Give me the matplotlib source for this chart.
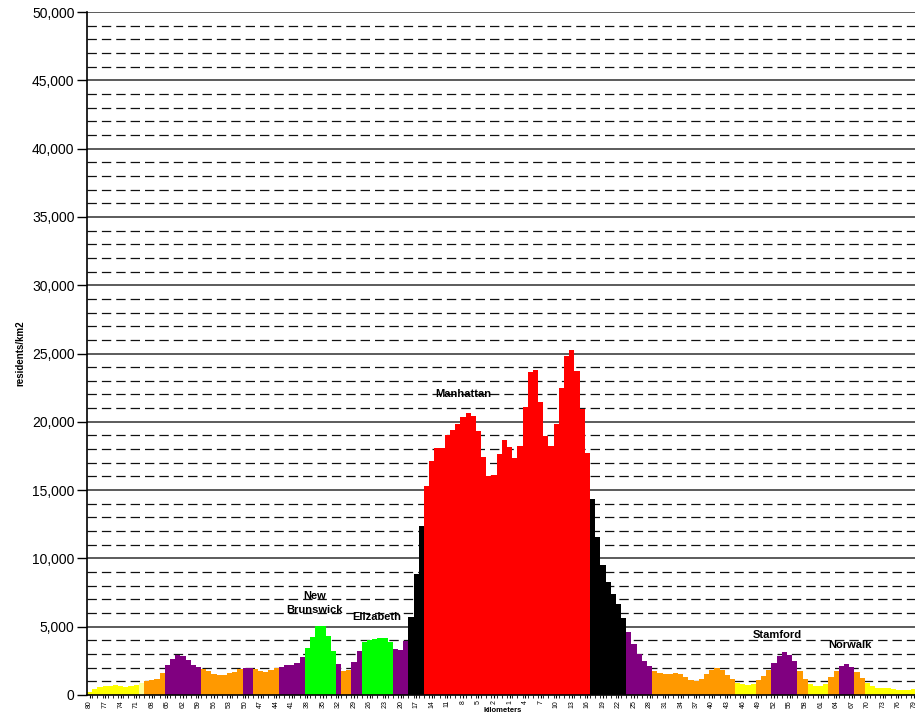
import matplotlib
matplotlib.use("Agg")
import matplotlib.pyplot as plt

plt.rcParams['font.family'] = ['Liberation Sans', 'DejaVu Sans']

# distance from Manhattan (km), left side counts down, right side counts up
km = list(range(80, 0, -1)) + [0] + list(range(1, 80))

density = [
    250, 440, 610, 680, 680, 730, 680, 610, 680, 730,
    880, 1020, 1100, 1200, 1610,
    2200, 2630, 2930, 2830, 2560, 2200, 2050,
    1900, 1760, 1540, 1460, 1460, 1610, 1700, 1900,
    1980, 1980,
    1900, 1760, 1680, 1830, 1980,
    2050, 2200, 2200, 2340, 2780,
    3440, 4240, 5050, 5050, 4320, 3220,
    2270, 1760, 1830, 2410, 3220,
    3900, 4000, 4070, 4170, 4170, 3900,
    3370, 3290, 3980,
    5680, 8850, 12390,
    15320, 17150, 18050, 18100, 19020, 19410, 19830, 20340, 20630, 20410,
    19340, 17440, 16050, 16100, 17630, 18680, 18150, 17370, 18220, 21070,
    23630, 23780, 21460, 18980, 18220, 19830, 22490, 24830, 25240, 23710,
    20950, 17710,
    14340, 11560, 9510, 8270, 7410, 6680, 5630,
    4610, 3730, 3000, 2490, 2120,
    1760, 1610, 1540, 1540, 1610, 1540, 1320, 1100, 1020, 1170,
    1540, 1830, 1980, 1830, 1460, 1170,
    880, 800, 730, 800,
    1100, 1390, 1830,
    2340, 2850, 3150, 2930, 2490,
    1760, 1170,
    800, 660, 660, 800,
    1320, 1760,
    2120, 2270, 2050,
    1680, 1240,
    880, 660, 510, 510, 510, 440, 370, 370, 370, 440,
]

# colour class of each bar, as runs of (class, count)
zone_runs = [
    ('Y', 10), ('P', 1), ('O', 4), ('U', 7), ('O', 8), ('U', 2), ('O', 5),
    ('U', 5), ('G', 6), ('U', 1), ('O', 2), ('U', 2), ('G', 6), ('U', 3),
    ('K', 3), ('R', 32), ('K', 7), ('U', 5), ('O', 16), ('Y', 4), ('O', 3),
    ('U', 5), ('O', 2), ('Y', 4), ('O', 2), ('U', 3), ('O', 2), ('Y', 10),
]

palette = {'Y': '#FFFF00', 'P': '#FFFF99', 'O': '#FF9900', 'U': '#800080',
           'G': '#00FF00', 'K': '#000000', 'R': '#FF0000'}

towns = ['New\nBrunswick', 'Elizabeth', 'Manhattan', 'Stamford', 'Norwalk']
town_x = [43.4, 55.4, 72.1, 132.7, 146.6]
town_y = [6700, 5700, 22000, 4400, 3650]

colors = []
for z, n in zone_runs:
    colors += [palette[z]] * n

fig = plt.figure(figsize=(9.15, 7.14), dpi=100)
ax = fig.add_axes([87 / 915, 19 / 714, 829.6 / 915, 683 / 714])

x = list(range(len(density)))
ax.bar(x, density, width=1.0, color=colors, edgecolor='none', zorder=3)

ax.set_xlim(-0.5, len(density) - 0.5)
ax.set_ylim(0, 50000)

ax.set_yticks(range(0, 50001, 5000))
ax.set_yticklabels(['{:,}'.format(v) for v in range(0, 50001, 5000)], fontsize=10)
ax.set_yticks(range(0, 50001, 1000), minor=True)
ax.grid(True, which='major', axis='y', color='#404040', lw=1.2, zorder=0)
ax.grid(True, which='minor', axis='y', color='#111111', lw=0.9,
        linestyle=(0, (7.5, 4)), zorder=0)
ax.tick_params(axis='y', which='major', length=7, width=1, pad=2)
ax.tick_params(axis='y', which='minor', length=0)

ax.set_xticks(x[::3])
ax.set_xticklabels([str(k) for k in km[::3]], rotation=90, fontsize=5)
ax.set_xticks([i + 0.5 for i in x], minor=True)
ax.tick_params(axis='x', which='major', length=2.5, pad=1)
ax.tick_params(axis='x', which='minor', length=2.5)

for s in ['top', 'right']:
    ax.spines[s].set_visible(False)
ax.spines['left'].set_linewidth(1.2)
ax.spines['bottom'].set_linewidth(1.2)
ax.spines['left'].set_zorder(4)
ax.spines['bottom'].set_zorder(4)

for name, tx, ty in zip(towns, town_x, town_y):
    ax.text(tx, ty, name, ha='center', va='center', fontsize=8,
            fontweight='bold', linespacing=1.5, zorder=5)

fig.text(20 / 915, 1 - 353 / 714, 'residents/km2', rotation=90, fontsize=7,
         fontweight='bold', ha='center', va='center')
fig.text(503 / 915, 1 - 711 / 714, 'kilometers', fontsize=5.5,
         fontweight='bold', ha='center', va='center')

fig.savefig('out.png', dpi=100)
